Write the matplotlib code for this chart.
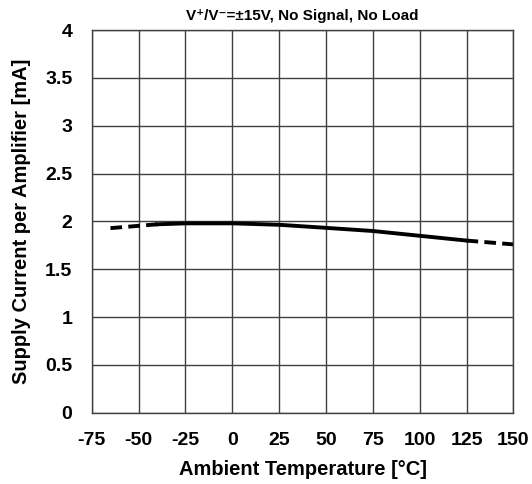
import numpy as np
import matplotlib
matplotlib.use("Agg")
import matplotlib.pyplot as plt

plt.rcParams['font.family'] = ['Liberation Sans', 'DejaVu Sans']
plt.rcParams['font.weight'] = 'bold'
plt.rcParams['axes.unicode_minus'] = False

# Supply current vs temperature
temp_lo = [-65, -40]
curr_lo = [1.93, 1.97]
temp_mid = [-40, -25, 0, 25, 50, 75, 100, 125]
curr_mid = [1.97, 1.98, 1.98, 1.965, 1.933, 1.90, 1.85, 1.80]
temp_hi = [125, 150]
curr_hi = [1.80, 1.76]

xticks = [-75, -50, -25, 0, 25, 50, 75, 100, 125, 150]
yticks = [0, 0.5, 1, 1.5, 2, 2.5, 3, 3.5, 4]
ytick_labels = ['0', '0.5', '1', '1.5', '2', '2.5', '3', '3.5', '4']

fig = plt.figure(figsize=(5.32, 4.84), dpi=100)
ax = fig.add_axes([0.1724, 0.147, 0.7926, 0.791])

ax.plot(temp_lo, curr_lo, color='black', lw=2.8, ls=(0, (3, 1.6)))
ax.plot(temp_mid, curr_mid, color='black', lw=2.8)
ax.plot(temp_hi, curr_hi, color='black', lw=2.8, ls=(0, (3, 1.6)))

ax.set_xlim(-75, 150)
ax.set_ylim(0, 4)
ax.set_xticks(xticks)
ax.set_yticks(yticks)
ax.set_yticklabels(ytick_labels)
ax.grid(True, color='#404040', lw=1)
ax.set_axisbelow(True)
for s in ax.spines.values():
    s.set_color('#404040')
    s.set_linewidth(1)
ax.tick_params(length=0, labelsize=14)
ax.tick_params(axis='x', pad=14)
ax.tick_params(axis='y', pad=14)

ax.set_xlabel("Ambient Temperature [°C]", fontsize=14.5, fontweight='bold', labelpad=8)
ax.set_ylabel("Supply Current per Amplifier [mA]", fontsize=14.5, fontweight='bold', labelpad=10)
ax.set_title("V⁺/V⁻=±15V, No Signal, No Load", fontsize=11, fontweight='bold', pad=7)

fig.savefig("out.png", dpi=100)
